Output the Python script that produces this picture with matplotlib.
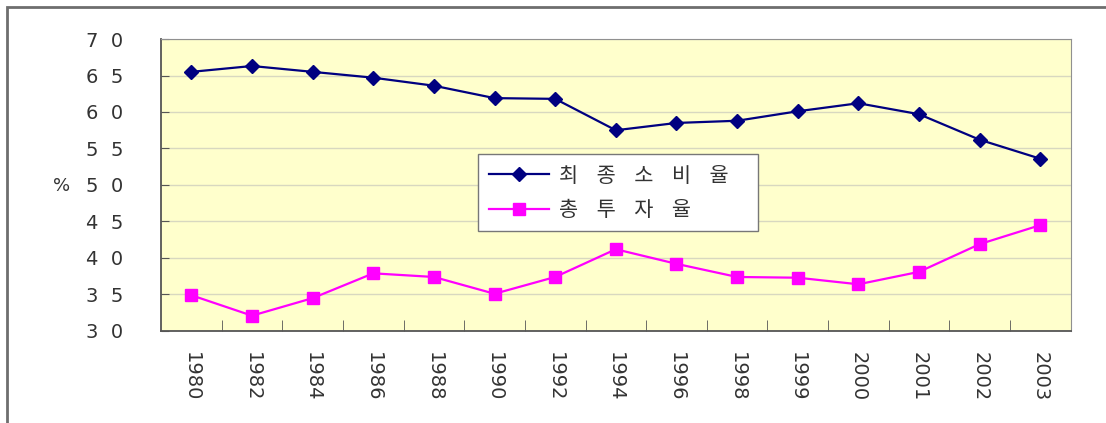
import numpy as np
import matplotlib.pyplot as plt
from matplotlib.patches import Rectangle

# Data
years = ['1980', '1982', '1984', '1986', '1988', '1990', '1992', '1994',
         '1996', '1998', '1999', '2000', '2001', '2002', '2003']
consumption = [65.5, 66.3, 65.5, 64.7, 63.6, 61.9, 61.8, 57.5,
               58.5, 58.8, 60.1, 61.2, 59.7, 56.2, 53.6]
investment = [34.9, 32.1, 34.5, 37.9, 37.4, 35.1, 37.4, 41.2,
              39.2, 37.4, 37.3, 36.4, 38.1, 41.9, 44.5]
yticks = [30, 35, 40, 45, 50, 55, 60, 65, 70]
ytick_labels = ['3  0', '3  5', '4  0', '4  5', '5  0', '5  5', '6  0', '6  5', '7  0']
series_names = ['최    종    소    비    율', '총    투    자    율']

plt.rcParams['font.family'] = ['Noto Sans CJK KR', 'DejaVu Sans']

fig = plt.figure(figsize=(11.06, 4.23), dpi=100)
ax = fig.add_axes([0.1456, 0.2175, 0.8224, 0.6903])

# outer frame of the picture
fig.patches.append(Rectangle((7 / 1106, -0.05), 1.1, 1 - 7 / 423 + 0.05,
                             transform=fig.transFigure, fill=False,
                             edgecolor='#6e6e6e', linewidth=2))

x = np.arange(len(years))
ax.set_facecolor('#ffffcc')
ax.plot(x, consumption, color='#000080', marker='D', markersize=7,
        linewidth=1.6, label=series_names[0])
ax.plot(x, investment, color='#ff00ff', marker='s', markersize=8,
        linewidth=1.6, label=series_names[1])

ax.set_xlim(-0.5, len(years) - 0.5)
ax.set_ylim(30, 70)
ax.set_yticks(yticks)
ax.set_yticklabels(ytick_labels, fontsize=14, color='#333333',
                   family='DejaVu Sans')
ax.yaxis.grid(True, color='#d8d8c0', linewidth=1)
ax.set_axisbelow(True)

ax.set_xticks(x)
ax.set_xticklabels(years, rotation=270, fontsize=14, color='#333333',
                   family='DejaVu Sans')
ax.set_xticks(np.arange(0.5, len(years) - 1, 1), minor=True)
ax.tick_params(axis='x', which='major', length=0, pad=15)
ax.tick_params(axis='x', which='minor', direction='in', length=8, color='#555555')
ax.tick_params(axis='y', direction='in', length=6, color='#555555', pad=27)

for s in ['top', 'right']:
    ax.spines[s].set_color('#909090')
for s in ['left', 'bottom']:
    ax.spines[s].set_color('#555555')
    ax.spines[s].set_linewidth(1.3)

fig.text(62 / 1106, 1 - 186 / 423, '%', fontsize=13, color='#333333',
         ha='center', va='center', family='DejaVu Sans')

leg = ax.legend(loc='lower left', bbox_to_anchor=(0.3486, 0.341, 0.3077, 0.28),
                mode='expand', fontsize=15, fancybox=False, framealpha=1,
                edgecolor='#777777', handlelength=2.9, handletextpad=0.5,
                borderpad=0.5, labelspacing=0.6, borderaxespad=0)
leg.get_frame().set_linewidth(1)
for t in leg.get_texts():
    t.set_color('#333333')

fig.savefig('out.png', dpi=100)
